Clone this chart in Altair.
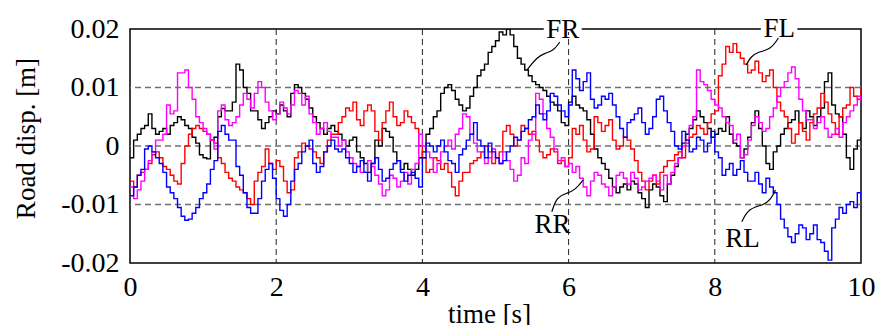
import altair as alt
import pandas as pd

# ---------------- data ----------------
time_s = [round(i * 0.05, 2) for i in range(201)]

# road displacement, millimetres, one value every 0.05 s (one row = 1 s)
fr_mm = [-2, 1, 2, 3, 3.5, 5.5, 3, 2, 2.5, 3, 2, 3.5, 4, 5, 4.5, 3.5, 3, 1.5, 0.5, -1.5,
         -2, -2.2, 1, 1.5, 5, 6.4, 6, 6, 7.5, 14, 13, 10, 9, 6, 6, 4.5, 3, 4, 5, 6,
         5.5, 7, 6, 5, 9, 10.5, 10, 9, 8, 6.5, 5, 4, 3, 2, 3, 3.5, 2.5, 2, 1, 0,
         1, 1.5, -1, -2, -3, -4.5, -3, 1, 0, 3, 2.5, 1.5, -1, -2.5, -4, -3, -4, -5, -4, -2,
         -1, 2, 3, 5, 6, 9, 10, 10.5, 9.5, 8, 7, 6, 6.5, 8.5, 10, 12, 13, 14, 16, 17,
         18, 19.5, 19, 20, 19, 17, 15, 14, 13, 12, 11, 10.5, 10, 9.5, 8.5, 7.5, 7, 6, 4, 3.5,
         7.5, 8.5, 7, 6.5, 6, 4.5, 2, -0.5, -2, -3, -4, -5.5, -7, -8, -7, -6.5, -7.5, -6, -6.5, -8,
         -9, -10.5, -7.5, -6.5, -7, -8.5, -9.5, -6.5, -5, -3.5, -2, 0.5, 2, 3, 4.5, 6, 5, 4, 3, 1.5,
         2, 3, 2.5, 5, 2, 0.5, 0, -2, -0.5, 1.5, 4, 6, 3, 0, -3, -4, -1, 0, 2, 3,
         4, 4.5, 6, 4, 3, 6, 5, 3.5, 5, 6.5, 11, 12.5, 7, 5.5, 5, 2, -2, -4, -0.5, 1,
         1.5]
fl_mm = [-6, -7, -5, -4.5, -4, -3, -1.5, -1, -2, -3.5, -4, -5, -6, -6.5, -3, 0, 2, 3, 3.5, 3,
         2.5, 2, 1, 0.5, -2, -3, -4.5, -5.5, -6, -7, -7.5, -8, -9, -10, -6, -4.5, -3.5, -0.5, -3, -4,
         -2.5, -3.5, -6, -8, -7.5, -2, -1, 0.5, 0, -0.5, -1, -2, -3, -1, 1, 2, 2, 4, 5, 6.5,
         6, 7.5, 4.5, 3.5, 6, 7, 6, 2.5, 1, 4, 6, 7.5, 5, 3.5, 4, 6, 5, 4, 3, 0,
         -2, -4.5, -4, -2, -2.5, -4, -3, -4.5, -7, -8.5, -6, -4.5, -4.5, -3, -2.5, -2, -1, 0, -1, -3,
         -2, -1, 2.5, 3.5, 2, 0, 1, 3.5, 3, 2, 2.5, 1, -1, -2, -1.5, -0.5, -1, -3, -2.5, -3.5,
         -2, 3, 2, 3.5, 1, -1, -0.5, 5, 4, 2.5, 3.5, 4.5, 1, -0.5, 0, 1.5, 1, -0.5, -2.5, -4.5,
         -6, -7.5, -6, -5, -6.5, -4.5, -3.5, -2.5, -2.5, -1.5, -1, -2, 0.5, 1.5, 2, 3.5, 3, 2, 4, 5.5,
         6, 12, 14, 17, 16, 17.5, 16, 15, 14, 12.5, 13, 14.5, 12.5, 11, 12, 13, 10, 7.5, 6, 5,
         3, 0.5, 2, 4, 2.5, 1, 4, 5.5, 6.5, 9, 7.5, 5.5, 4, 2, 5, 6.5, 7, 10, 8.5, 8,
         10]
rr_mm = [-7, -9, -7.5, -6, -4, -2.5, -1, 1, 1, 2, 7, 5.5, 6, 12.5, 12.5, 13, 10, 8, 5, 4,
         3, 2, 1, -0.5, 6, 7, 4.5, 3.5, 4, 5, 7, 9, 8, 6.5, 9, 11, 10, 7.5, 6, 4.5,
         5.5, 7.5, 6.5, 5.5, 7, 9.5, 9, 7, 8.5, 5.5, 4, 2, 3, 4, 2.5, 1.5, 1.5, 0, 1, -1,
         -2, -3, -3.5, -4.5, -4.5, -2.5, -3.5, -5, -6.5, -8.5, -7.5, -5, -5.5, -7, -6, -4.5, -6.5, -4, -3, 2,
         0, -1, -2, -4.5, -3, -1, 0, 1, -0.5, 2, 3, 5.5, 5, 2, 0.5, -1, -1, -3, -2, -0.5,
         -2, -3, -1, -2.5, -4, -6, -5, -2, -3, 1, 2, 9, 8, 5.5, 3, 1.5, -0.5, -2.5, -2, -3.5,
         -3, -4.5, -3.5, -5.5, -7, -8.5, -6, -4.5, -5, -6.5, -7, -8.5, -7, -5, -4.5, -5.5, -6.5, -4.5, -5.5, -7.5,
         -7, -6, -5.5, -5, -6, -7.5, -5, -6.5, -4.5, -3, -2, 0, 1, 3.5, 5, 13, 11, 10.5, 9.5, 8,
         7, 6.5, 5, 4, 3.5, 1, 2, -2, -1.5, 1, 3.5, 5, 4, 2.5, 3, 5, 6.5, 8.5, 10, 11,
         12.5, 13.5, 11.5, 8, 6, 4.5, 4.5, 3, 4, 5, 3, 1.5, 2, 3, 1.5, 4, 5, 6, 7, 8.5,
         7.5]
rl_mm = [-8.5, -7, -5, -4, -0.5, 0, -1, -2, -3, -4.5, -7, -8, -9, -10.5, -12, -12.7, -12.5, -11.5, -10.5, -9,
         -8, -6.5, -4, -2.5, 2.5, 3.5, 2, 1, 1, -3.5, -5, -8, -10.5, -11.5, -11.5, -9, -6, -4, -3, -5.5,
         -9, -11, -12, -10, -6, -4, -3, -1, 0, 1, -3, -4.5, -3.5, -1, 0, 1, -0.5, -1, -0.5, -2,
         -3, -4.5, -3.5, -2.5, -4.5, -6, -3, -2, -4, -6, -5.5, -4, -3, -2.5, -4.5, -6, -5, -4.5, -5.5, -7,
         -2, 0.5, 0, -1, 0, 1, -1, -2.5, -3, -4.5, -1.5, -0.5, 1, 2, 4, 1, 0, -2, 0.5, -1,
         -2, -3, -2.5, -1, 0, 1.5, 1, 2.5, 3, 4.5, 5, 7, 5.5, 4.5, 6, 9, 8.5, 7, 6, 5,
         7, 13, 11.5, 9.5, 11, 12.5, 8, 6.5, 7, 8.5, 8, 9, 7, 5, 3, 1.5, 4, 4.5, 5.5, 6.5,
         4, 2, 3, 5, 8, 8.5, 6, 4, 2.5, 0, -0.5, 2.5, 1, -1, -0.5, 1.5, 1, -1, 0.5, 2.5,
         -1, -2, -5, -4, -3, -5, -4, -2.5, -4.5, -6, -6, -4.5, -6.5, -8, -5.5, -7, -8, -10, -12.5, -14,
         -15.5, -16.5, -15, -13.5, -14, -16, -15, -13.5, -16, -16.5, -18, -19.5, -14, -12.5, -10.5, -11.5, -10, -9.5, -10.5, -8,
         -9]

series_names = ["FR", "FL", "RR", "RL"]
series_values = [fr_mm, fl_mm, rr_mm, rl_mm]
series_colors = ["#000000", "#ff0000", "#ff00ff", "#0000ff"]

x_tick_values = [0, 2, 4, 6, 8, 10]
y_tick_values = [-0.02, -0.01, 0, 0.01, 0.02]
x_grid_values = [2, 4, 6, 8]
y_grid_values = [-0.01, 0, 0.01]

# annotation labels
label_names = ["FR", "FL", "RR", "RL"]
label_t = [5.92, 8.88, 5.78, 8.38]
label_v = [0.0184, 0.0186, -0.0149, -0.0173]

# white boxes behind the top labels (break the frame)
box_names = ["FR", "FL"]
box_t1 = [5.66, 8.63]
box_t2 = [6.18, 9.13]
box_v1 = [0.0195, 0.0195]
box_v2 = [0.0215, 0.0215]

# leader curves
leader_name = ["FR"] * 5 + ["FL"] * 5 + ["RR"] * 5 + ["RL"] * 5
leader_t = [5.88, 5.79, 5.68, 5.57, 5.43,
            8.87, 8.76, 8.58, 8.49, 8.43,
            5.77, 5.84, 5.975, 6.09, 6.20,
            8.37, 8.46, 8.67, 8.76, 8.83]
leader_v = [0.01778, 0.01624, 0.0159, 0.01521, 0.01299,
            0.01846, 0.01641, 0.01607, 0.01521, 0.01385,
            -0.01123, -0.00867, -0.00809, -0.00752, -0.00581,
            -0.01294, -0.01065, -0.01009, -0.00923, -0.00752]

# ---------------- tables ----------------
rows = []
for k, (name, vals) in enumerate(zip(series_names, series_values)):
    for t, v in zip(time_s, vals):
        rows.append({"t": t, "v": v / 1000.0, "s": name, "k": k})
df = pd.DataFrame(rows)

lab_df = pd.DataFrame({"label": label_names, "t": label_t, "v": label_v})
box_df = pd.DataFrame({"label": box_names, "t1": box_t1, "t2": box_t2,
                       "v1": box_v1, "v2": box_v2})
lead_df = pd.DataFrame({"label": leader_name, "t": leader_t, "v": leader_v,
                        "i": list(range(len(leader_t)))})
xg_df = pd.DataFrame({"t": x_grid_values})
yg_df = pd.DataFrame({"v": y_grid_values})

FONT = "Liberation Serif"
xs = alt.Scale(domain=[0, 10], nice=False, zero=False)
ys = alt.Scale(domain=[-0.02, 0.02], nice=False, zero=False)

x_axis = alt.Axis(values=x_tick_values, format="d", title="time [s]",
                  grid=False, ticks=False, domain=False, labelFlush=False,
                  labelFont=FONT, labelFontSize=28, labelColor="black",
                  labelPadding=10, titleFont=FONT, titleFontSize=27,
                  titleFontWeight="normal", titleColor="black",
                  titleBaseline="alphabetic", titleX=359, titleY=59)
y_axis = alt.Axis(values=y_tick_values, title="Road disp. [m]",
                  labelExpr="datum.value == 0 ? '0' : (datum.value < 0 ? '-' : '') + format(abs(datum.value), '.2f')",
                  grid=False, ticks=False, domain=False, labelFlush=False,
                  labelFont=FONT, labelFontSize=28, labelColor="black",
                  labelPadding=11, titleFont=FONT, titleFontSize=27,
                  titleFontWeight="normal", titleColor="black",
                  titleBaseline="alphabetic", titleX=-96, titleY=109)

xgrid = alt.Chart(xg_df).mark_rule(color="#222222", strokeWidth=1,
                                   strokeDash=[6, 4]).encode(
    x=alt.X("t:Q", scale=xs, axis=x_axis))
ygrid = alt.Chart(yg_df).mark_rule(color="#707070", strokeWidth=1.4,
                                   strokeDash=[6, 4]).encode(
    y=alt.Y("v:Q", scale=ys, axis=y_axis))

lines = alt.Chart(df).mark_line(interpolate="step-after", strokeWidth=1.4,
                                clip=True).encode(
    x=alt.X("t:Q", scale=xs, axis=x_axis),
    y=alt.Y("v:Q", scale=ys, axis=y_axis),
    color=alt.Color("s:N", scale=alt.Scale(domain=series_names,
                                           range=series_colors), legend=None),
    order="k:Q",
)

leaders = alt.Chart(lead_df).mark_line(color="black", strokeWidth=1.2,
                                       interpolate="basis").encode(
    x=alt.X("t:Q", scale=xs), y=alt.Y("v:Q", scale=ys),
    detail="label:N", order="i:Q")

boxes = alt.Chart(box_df).mark_rect(color="white").encode(
    x=alt.X("t1:Q", scale=xs), x2="t2:Q",
    y=alt.Y("v1:Q", scale=ys), y2="v2:Q")

texts = alt.Chart(lab_df).mark_text(font=FONT, fontSize=27, color="black",
                                    baseline="alphabetic", align="center").encode(
    x=alt.X("t:Q", scale=xs), y=alt.Y("v:Q", scale=ys), text="label:N")

chart = alt.layer(xgrid, ygrid, lines, leaders, boxes, texts).properties(
    width=731, height=234,
    autosize=alt.AutoSizeParams(type="none"),
    padding={"left": 130, "top": 29, "right": 16, "bottom": 62},
    background="white",
).configure_view(stroke="black", strokeWidth=1.5)

chart.save("out.html", embed_options={"renderer": "svg", "actions": False})
